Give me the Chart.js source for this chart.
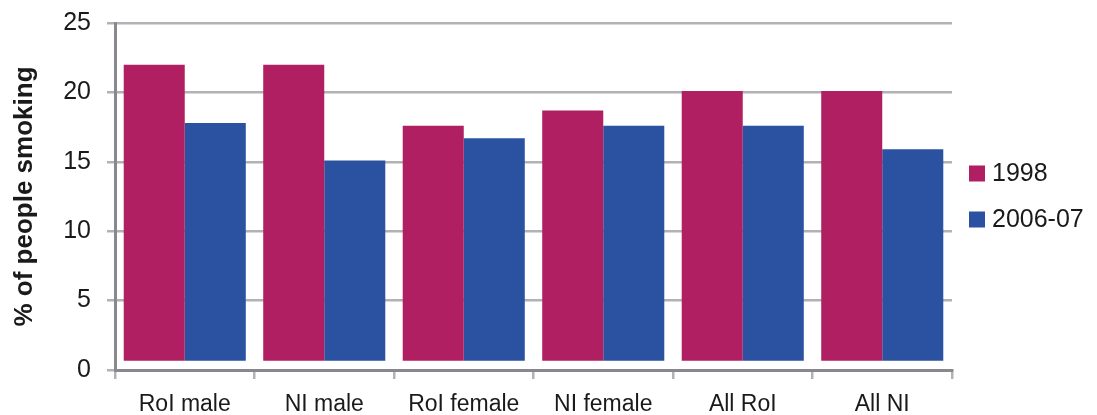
<!DOCTYPE html>
<html>
<head>
<meta charset="utf-8">
<script src="https://cdn.jsdelivr.net/npm/chart.js@4.4.1/dist/chart.umd.min.js"></script>
<style>
  html, body { margin: 0; padding: 0; background: #ffffff; }
  #wrap { width: 1097px; height: 415px; position: relative; }
</style>
</head>
<body>
<div id="wrap"><canvas id="chart"></canvas></div>
<script>
// Smoking prevalence by group, 1998 vs 2006-07
const categories = ['RoI male', 'NI male', 'RoI female', 'NI female', 'All RoI', 'All NI'];
const series1998 = [22.0, 22.0, 17.6, 18.7, 20.1, 20.1];
const series2006 = [17.8, 15.1, 16.7, 17.6, 17.6, 15.9];
const seriesNames = ['1998', '2006-07'];
const yTicks = [0, 5, 10, 15, 20, 25];

const FONT = "'Liberation Sans', Arial, sans-serif";
const TEXT = '#1a1a1a';
const GRID = '#b2b2b6';
const AXIS = '#89898d';

// Legend drawn to the right of the plot, vertically centred on it
const sideLegend = {
  id: 'sideLegend',
  afterDraw(chart) {
    const { ctx, chartArea } = chart;
    const midY = (chartArea.top + chartArea.bottom) / 2;
    const gap = 46;
    const box = 16;
    const x0 = chartArea.right + 17;
    ctx.save();
    ctx.font = '25px ' + FONT;
    ctx.textBaseline = 'middle';
    ctx.textAlign = 'left';
    chart.data.datasets.forEach((ds, i) => {
      const cy = midY + (i - (chart.data.datasets.length - 1) / 2) * gap;
      ctx.fillStyle = ds.backgroundColor;
      ctx.fillRect(x0, cy - box / 2, box, box);
      ctx.fillStyle = TEXT;
      ctx.fillText(ds.label, x0 + box + 7, cy + 1);
    });
    ctx.restore();
  }
};

new Chart(document.getElementById('chart'), {
  type: 'bar',
  data: {
    labels: categories,
    datasets: [
      { label: seriesNames[0], data: series1998, backgroundColor: '#b01f61', base: 0.67 },
      { label: seriesNames[1], data: series2006, backgroundColor: '#2a52a1', base: 0.67 }
    ]
  },
  options: {
    responsive: true,
    maintainAspectRatio: false,
    animation: false,
    devicePixelRatio: 1,
    categoryPercentage: 0.875,
    barPercentage: 1.0,
    layout: { padding: { top: 23, right: 145, bottom: 0, left: 0 } },
    plugins: {
      legend: { display: false },
      tooltip: { enabled: false }
    },
    scales: {
      x: {
        offset: true,
        grid: {
          display: true,
          drawOnChartArea: false,
          offset: true,
          color: GRID,
          tickColor: GRID,
          tickLength: 9,
          lineWidth: 2.5
        },
        border: { display: true, color: AXIS, width: 3 },
        ticks: {
          color: TEXT,
          font: { family: FONT, size: 23 },
          padding: 12,
          maxRotation: 0
        },
        afterFit(scale) {
          scale.height = 45;
          scale.paddingLeft = 0;
          scale.paddingRight = 0;
        }
      },
      y: {
        min: 0,
        max: 25,
        afterBuildTicks(scale) { scale.ticks = yTicks.map(v => ({ value: v })); },
        grid: {
          color: GRID,
          tickColor: GRID,
          tickLength: 8,
          lineWidth: 2.5
        },
        border: { display: true, color: AXIS, width: 3 },
        ticks: {
          color: TEXT,
          font: { family: FONT, size: 25 },
          padding: 16
        },
        title: {
          display: true,
          text: '% of people smoking',
          color: TEXT,
          font: { family: FONT, size: 26, weight: 'bold' },
          padding: { top: 9, bottom: 0 }
        },
        afterFit(scale) {
          scale.width = 115;
          scale.paddingTop = 0;
          scale.paddingBottom = 0;
        }
      }
    }
  },
  plugins: [sideLegend]
});
</script>
</body>
</html>
